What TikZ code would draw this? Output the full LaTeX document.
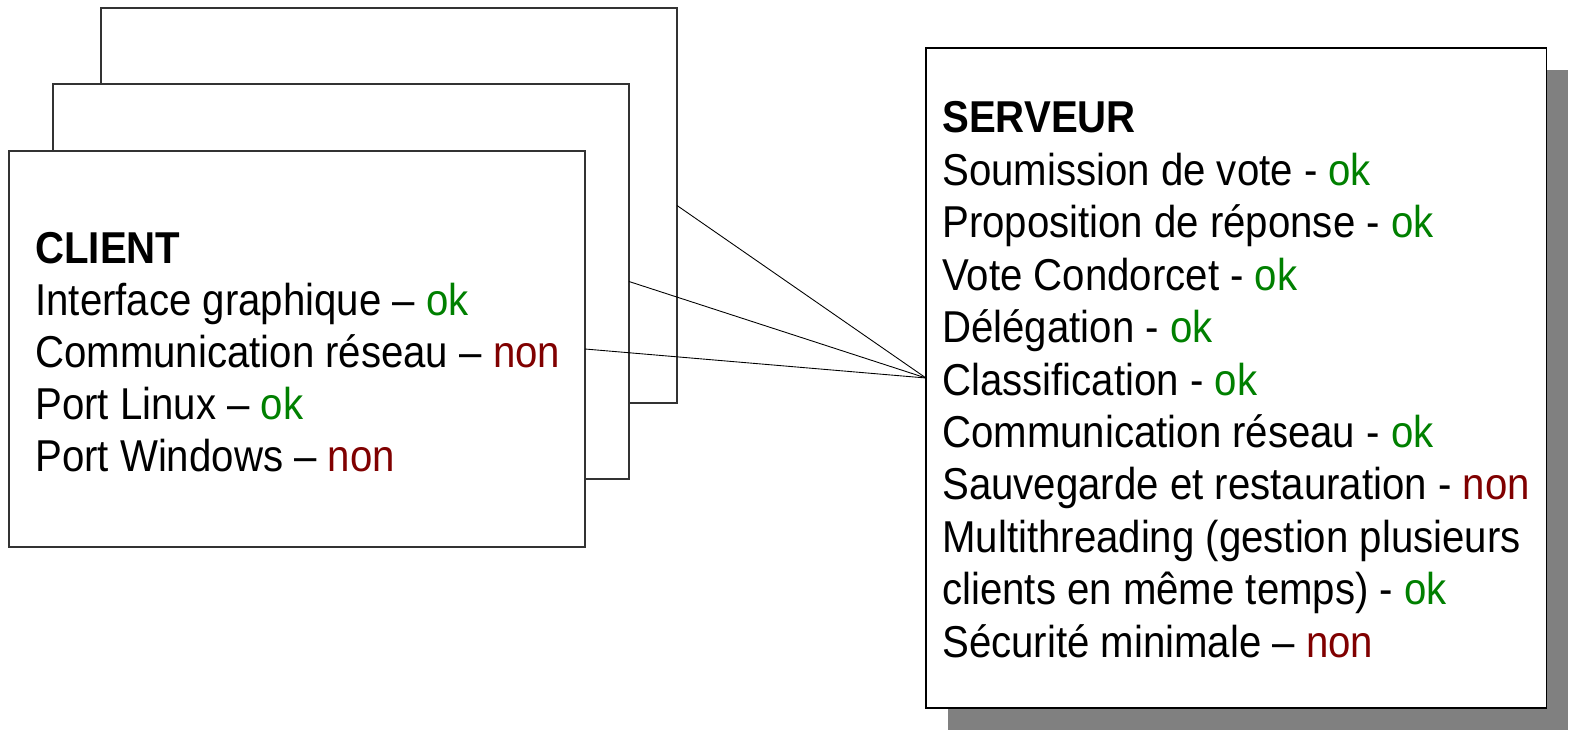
\documentclass[tikz,border=0pt]{standalone}
\usepackage{fontspec}
\setmainfont[FakeStretch=0.9]{Liberation Sans}
\definecolor{okgreen}{HTML}{008000}
\definecolor{nonred}{HTML}{800000}
\def\ok{\textcolor{okgreen}{ok}}
\def\non{\textcolor{nonred}{non}}
\tikzset{
  fiche/.style={draw=black!80, fill=white, line width=0.6pt, inner sep=0pt, outer sep=0pt, anchor=north west},
  ligne/.style={anchor=base west, inner sep=0pt, font=\fontsize{25.4pt}{30pt}\selectfont},
  lien/.style={draw=black, line width=0.5pt}
}
\begin{document}
\begin{tikzpicture}[x=0.2mm,y=-0.2mm]
  \useasboundingbox (0,0) rectangle (1571,730);
  % trois clients empiles
  \node[fiche, minimum width=115.2mm, minimum height=79mm] (client1) at (101,8) {};
  \node[fiche, minimum width=115.2mm, minimum height=79mm] (client2) at (53,84) {};
  \node[fiche, minimum width=115.2mm, minimum height=79.2mm] (client3) at (9,151) {};
  % serveur avec ombre
  \fill[black!50] (948,70) rectangle (1568,730);
  \node[fiche, draw=black, minimum width=124mm, minimum height=132mm] (serveur) at (926,48) {};
  % liens
  \draw[lien] (client1.east) -- (serveur.west);
  \draw[lien] (client2.east) -- (serveur.west);
  \draw[lien] (client3.east) -- (serveur.west);
  % textes
  \foreach \t [count=\i] in {\textbf{CLIENT}, Interface graphique – \ok,
      Communication réseau – \non, Port Linux – \ok, Port Windows – \non}
    \node[ligne] (cl\i) at (35,211+52*\i) {\t};
  \foreach \t [count=\i] in {\textbf{SERVEUR}, Soumission de vote - \ok,
      Proposition de réponse - \ok, Vote Condorcet - \ok, Délégation - \ok,
      Classification - \ok, Communication réseau - \ok,
      Sauvegarde et restauration - \non, Multithreading (gestion plusieurs,
      clients en même temps) - \ok, Sécurité minimale – \non}
    \node[ligne] (sv\i) at (942,80.6+52.4*\i) {\t};
\end{tikzpicture}
\end{document}
